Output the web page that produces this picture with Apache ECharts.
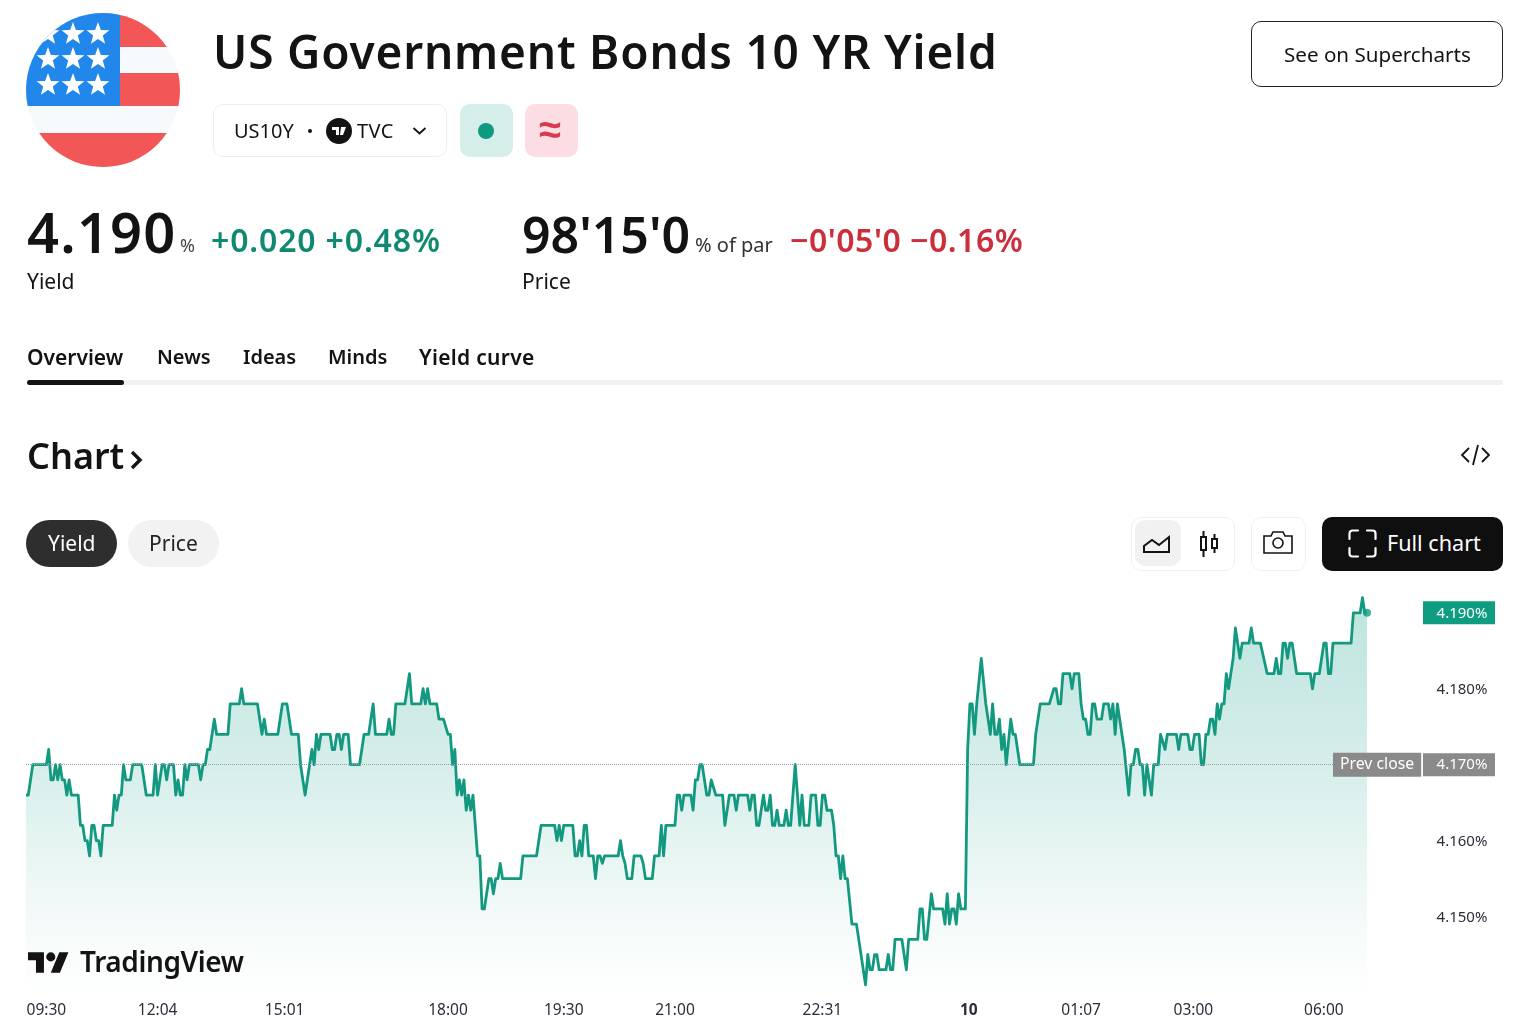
<!DOCTYPE html>
<html>
<head>
<meta charset="UTF-8">
<title>US Government Bonds 10 YR Yield</title>
<script src="https://cdn.jsdelivr.net/npm/echarts@6/dist/echarts.min.js"></script>
<style>
html,body{margin:0;padding:0;background:#fff;}
body{width:1536px;height:1034px;position:relative;overflow:hidden;font-family:"Noto Sans",sans-serif;color:#131313;}
#chart{position:absolute;left:0;top:0;width:1536px;height:1034px;}
.t{position:absolute;white-space:nowrap;line-height:1;transform:translateY(-50%);}
.b{position:absolute;box-sizing:border-box;border-radius:10px;}
svg{position:absolute;overflow:visible;}
</style>
</head>
<body>
<div id="chart"></div>

<svg style="left:0;top:0" width="200" height="180">
	<defs><clipPath id="flagClip"><circle cx="103" cy="90" r="77"/></clipPath></defs>
	<g clip-path="url(#flagClip)">
		<rect x="26" y="13" width="154" height="154" fill="#f7fafc"/>
		<rect x="120" y="13" width="60" height="34" fill="#f25656"/>
		<rect x="120" y="73" width="60" height="33" fill="#f25656"/>
		<rect x="26" y="133" width="154" height="34" fill="#f25656"/>
		<rect x="26" y="13" width="94" height="93" fill="#2287ea"/>
		<g fill="#fff" id="stars"></g>
	</g>
</svg>
<div class="t" style="left:213px;top:51px;font-size:46px;font-weight:600;letter-spacing:0.8px;">US Government Bonds 10 YR Yield</div>

<div class="b" style="left:213px;top:104px;width:234px;height:53px;border:1px solid #eeeeee;"></div>
<div class="t" style="left:234px;top:131px;font-size:20px;">US10Y</div>
<div class="b" style="left:308px;top:129px;width:4px;height:4px;background:#131313;border-radius:50%;"></div>
<svg style="left:326px;top:118px" width="26" height="26" viewBox="0 0 26 26">
	<circle cx="13" cy="13" r="13" fill="#131313"/>
	<path d="M6 9h7v8h-3v-5H6zM15 9h5l-3 8h-3z" fill="#fff"/>
</svg>
<div class="t" style="left:357px;top:131px;font-size:20px;letter-spacing:0.4px;">TVC</div>
<svg style="left:412px;top:126px" width="15" height="10"><path d="M1.5 2l6 5.5 6-5.5" fill="none" stroke="#131313" stroke-width="1.8"/></svg>
<div class="b" style="left:460px;top:104px;width:53px;height:53px;background:#d5eeea;"></div>
<div class="b" style="left:478px;top:123px;width:16px;height:16px;background:#0c9a80;border-radius:50%;"></div>
<div class="b" style="left:525px;top:104px;width:53px;height:53px;background:#fcdde3;"></div>
<div class="t" style="left:539px;top:128px;font-size:40px;font-weight:700;color:#d8394f;">≈</div>

<div class="b" style="left:1251px;top:21px;width:252px;height:66px;border:1px solid #222;"></div>
<div class="t" style="left:1284px;top:54px;font-size:20.6px;">See on Supercharts</div>

<div class="t" style="left:27px;top:231px;font-size:56px;font-weight:600;letter-spacing:1.2px;">4.190</div>
<div class="t" style="left:180px;top:245px;font-size:18px;color:#444;">%</div>
<div class="t" style="left:211px;top:240px;font-size:32px;font-weight:600;letter-spacing:0.85px;color:#0f8a70;">+0.020 +0.48%</div>
<div class="t" style="left:27px;top:281px;font-size:21px;">Yield</div>
<div class="t" style="left:522px;top:234px;font-size:50px;font-weight:600;">98'15'0</div>
<div class="t" style="left:695px;top:245px;font-size:20px;color:#333;">% of par</div>
<div class="t" style="left:790px;top:240px;font-size:32px;font-weight:600;letter-spacing:0.5px;color:#cc2f3c;">−0'05'0 −0.16%</div>
<div class="t" style="left:522px;top:281px;font-size:21px;">Price</div>

<div class="t" style="left:27px;top:357px;font-size:21px;font-weight:600;">Overview</div>
<div class="t" style="left:157px;top:357px;font-size:20px;font-weight:600;">News</div>
<div class="t" style="left:243px;top:357px;font-size:20px;font-weight:600;">Ideas</div>
<div class="t" style="left:328px;top:357px;font-size:20px;font-weight:600;">Minds</div>
<div class="t" style="left:419px;top:357px;font-size:21px;font-weight:600;letter-spacing:0.3px;">Yield curve</div>
<div class="b" style="left:27px;top:380px;width:1476px;height:5px;background:#f1f1f1;border-radius:3px;"></div>
<div class="b" style="left:27px;top:380px;width:97px;height:5px;background:#131313;border-radius:3px;"></div>

<div class="t" style="left:27px;top:456px;font-size:36px;font-weight:600;">Chart</div>
<svg style="left:130px;top:450px" width="14" height="20"><path d="M2 2l8 8-8 8" fill="none" stroke="#131313" stroke-width="3.4"/></svg>
<svg style="left:1461px;top:443px" width="29" height="24" fill="none" stroke="#131313" stroke-width="1.8">
	<path d="M8 5l-7 7 7 7M21 5l7 7-7 7M17 2l-5 20"/>
</svg>

<div class="b" style="left:26px;top:520px;width:91px;height:47px;background:#2e2e2e;border-radius:24px;"></div>
<div class="t" style="left:48px;top:543px;font-size:21px;color:#fff;">Yield</div>
<div class="b" style="left:128px;top:520px;width:91px;height:47px;background:#f2f2f2;border-radius:24px;"></div>
<div class="t" style="left:149px;top:543px;font-size:21px;color:#222;">Price</div>

<div class="b" style="left:1131px;top:517px;width:104px;height:54px;border:1px solid #f0f0f0;"></div>
<div class="b" style="left:1135px;top:520px;width:46px;height:46px;background:#f1f1f1;"></div>
<svg style="left:1143px;top:534px" width="28" height="20" fill="none" stroke="#131313" stroke-width="2">
	<path d="M1 18V12l8-6 7 5 10-8v15zM1 18h26"/>
</svg>
<svg style="left:1199px;top:530px" width="20" height="28" fill="none" stroke="#131313" stroke-width="2">
	<rect x="2" y="7" width="5" height="13"/><path d="M4.5 1v6M4.5 20v7"/>
	<rect x="13" y="9" width="5" height="9"/><path d="M15.5 4v5M15.5 18v5"/>
</svg>
<div class="b" style="left:1251px;top:517px;width:55px;height:54px;border:1px solid #f0f0f0;"></div>
<svg style="left:1263px;top:531px" width="30" height="24" fill="none" stroke="#131313" stroke-width="1.6">
	<path d="M1 5h7l2-4h10l2 4h7v17H1z"/><circle cx="15" cy="12" r="5"/>
</svg>
<div class="b" style="left:1322px;top:517px;width:181px;height:54px;background:#0f0f0f;"></div>
<svg style="left:1348px;top:529px" width="29" height="29" fill="none" stroke="#fff" stroke-width="2.2" stroke-linecap="round">
	<path d="M10 1.5H4.5a3 3 0 0 0-3 3V10M19 1.5h5.5a3 3 0 0 1 3 3V10M10 27.5H4.5a3 3 0 0 1-3-3V19M19 27.5h5.5a3 3 0 0 0 3-3V19"/>
</svg>
<div class="t" style="left:1387px;top:543px;font-size:21.6px;color:#fff;">Full chart</div>

<svg style="left:28px;top:950px" width="41" height="24" viewBox="0 0 36 21">
	<path d="M14 20H7V9H0V2h14zM28 20h-8l7.5-18h8z" fill="#131313"/><circle cx="20" cy="6" r="4" fill="#131313"/>
</svg>
<div class="t" style="left:80px;top:961px;font-size:28px;font-weight:600;letter-spacing:-0.4px;">TradingView</div>

<script type="text/javascript">
// session bar number of each turning point of the line, and the yield there
var barIndex = [
	0,1,3,9,10,11,12,13,14,15,16,17,18,19,20,23,24,25,26,27,28,29,30,31,32,33,34,38,39,40,41,42,43,44,46,47,51,53,56,57,58,60,61,62,63,65,66,67,68,69,70,71,72,76,77,78,79,80,81,83,84,89,90,94,95,96,102,104,105,106,111,113,115,117,120,121,123,126,127,128,129,130,134,135,136,137,138,139,140,142,143,147,
	149,151,153,154,159,160,161,162,163,167,169,170,174,175,176,177,178,181,182,184,186,187,188,189,190,191,192,193,194,195,196,197,199,200,201,202,204,205,206,207,208,209,210,218,219,225,227,233,234,235,236,237,241,242,243,244,245,246,247,248,250,251,252,253,254,255,261,262,263,264,265,267,268,271,272,273,276,277,279,280,281,282,286,287,288,289,290,
	293,294,295,296,297,298,300,301,302,304,307,308,310,312,313,314,318,319,320,321,322,323,325,326,327,328,329,330,331,332,334,335,336,337,339,341,342,343,345,346,348,349,350,351,352,353,355,356,357,358,359,360,361,362,364,366,370,371,372,373,374,375,376,379,380,381,382,383,386,388,389,393,394,395,396,397,399,400,404,405,406,407,408,409,410,411,412,414,415,416,417,418,419,421,423,425,426,427,428,429,430,431,432,434,435,436,438,
	444,445,447,451,453,454,455,456,457,460,461,462,464,465,466,467,468,469,470,471,472,474,475,477,478,479,480,481,484,486,487,488,489,490,491,492,493,494,496,497,499,500,502,503,507,508,509,512,513,514,515,517,518,519,520,521,522,523,524,525,526,527,528,529,530,532,533,535,536,539,540,541,544,547,550,551,552,553,554,555,556,557,558,560,566,567,568,570,572,573,574,575,576,584,585,588,589,590,591
];
var yieldPct = [
	4.166,4.166,4.170,4.170,4.172,4.168,4.168,4.170,4.168,4.170,4.168,4.168,4.166,4.168,4.166,4.166,4.162,4.162,4.160,4.160,4.158,4.162,4.162,4.160,4.160,4.158,4.162,4.162,4.166,4.164,4.166,4.166,4.170,4.168,4.168,4.170,4.170,4.166,4.166,4.170,4.166,4.170,4.170,4.168,4.170,4.170,4.166,4.168,4.166,4.166,4.170,4.168,4.170,4.170,4.168,4.170,4.170,4.172,4.172,4.176,4.174,4.174,4.178,4.178,4.180,4.178,4.178,4.174,4.176,4.174,4.174,4.178,4.178,4.174,4.174,4.170,4.166,4.172,4.170,4.174,4.172,4.174,4.174,4.172,4.172,4.174,4.174,4.172,4.174,4.174,4.170,4.170,
	4.174,4.174,4.178,4.174,4.174,4.176,4.174,4.174,4.178,4.178,4.182,4.178,4.178,4.180,4.178,4.180,4.178,4.178,4.176,4.176,4.174,4.174,4.170,4.172,4.166,4.168,4.166,4.168,4.164,4.166,4.164,4.166,4.158,4.158,4.151,4.151,4.155,4.155,4.153,4.155,4.155,4.157,4.155,4.155,4.158,4.158,4.162,4.162,4.160,4.162,4.160,4.162,4.162,4.158,4.158,4.160,4.158,4.162,4.162,4.158,4.158,4.155,4.158,4.158,4.157,4.158,4.158,4.160,4.158,4.157,4.155,4.155,4.158,4.158,4.157,4.155,4.155,4.158,4.158,4.162,4.158,4.162,4.162,4.166,4.166,4.164,4.166,
	4.166,4.164,4.168,4.168,4.170,4.170,4.166,4.166,4.168,4.166,4.166,4.162,4.166,4.166,4.164,4.166,4.166,4.164,4.166,4.166,4.162,4.162,4.166,4.164,4.164,4.166,4.162,4.162,4.164,4.162,4.162,4.164,4.162,4.162,4.170,4.162,4.166,4.162,4.162,4.166,4.166,4.162,4.162,4.166,4.166,4.164,4.164,4.162,4.158,4.158,4.155,4.158,4.155,4.155,4.149,4.149,4.141,4.145,4.143,4.143,4.145,4.145,4.143,4.143,4.145,4.143,4.143,4.147,4.147,4.143,4.147,4.147,4.151,4.151,4.147,4.147,4.153,4.151,4.151,4.149,4.153,4.149,4.151,4.151,4.149,4.153,4.151,4.151,4.172,4.178,4.178,4.174,4.178,4.184,4.178,4.174,4.178,4.174,4.174,4.176,4.172,4.174,4.170,4.176,4.174,4.174,4.170,
	4.170,4.174,4.178,4.178,4.180,4.180,4.178,4.178,4.182,4.182,4.180,4.182,4.182,4.178,4.176,4.176,4.174,4.174,4.178,4.178,4.176,4.176,4.178,4.178,4.176,4.178,4.174,4.178,4.172,4.166,4.170,4.170,4.172,4.172,4.170,4.170,4.166,4.170,4.166,4.170,4.170,4.174,4.172,4.174,4.174,4.172,4.174,4.174,4.172,4.172,4.174,4.174,4.170,4.170,4.174,4.174,4.176,4.176,4.174,4.178,4.176,4.178,4.178,4.182,4.180,4.184,4.188,4.184,4.186,4.186,4.188,4.186,4.186,4.182,4.182,4.184,4.182,4.182,4.186,4.186,4.184,4.186,4.186,4.182,4.182,4.180,4.182,4.182,4.186,4.186,4.182,4.182,4.186,4.186,4.190,4.190,4.192,4.190,4.190
];
var xTickBars = [9,58,114,186,237,286,351,415.5,465,514.5,572];
var xTickLabels = ['09:30','12:04','15:01','18:00','19:30','21:00','22:31','10','01:07','03:00','06:00'];
var yTicks = [4.15,4.16,4.17,4.18,4.19];
var prevClose = 4.17;
var lastYield = 4.19;

var starRows = [[48,34],[73,34],[98,34],[48,59],[73,59],[98,59],[48,85],[73,85],[98,85]];
var starsHtml = '';
for (var s=0;s<starRows.length;s++) {
	var pts = [];
	for (var k=0;k<10;k++) {
		var r = k%2==0 ? 12 : 5;
		var a = -Math.PI/2 + k*Math.PI/5;
		pts.push((starRows[s][0]+r*Math.cos(a)).toFixed(1)+','+(starRows[s][1]+r*Math.sin(a)).toFixed(1));
	}
	starsHtml += '<polygon points="'+pts.join(' ')+'"/>';
}
document.getElementById('stars').innerHTML = starsHtml;

var lineData = [];
for (var i=0;i<barIndex.length;i++) {
	lineData.push([barIndex[i], yieldPct[i]]);
}

var myChart = echarts.init(document.getElementById('chart'));
var font = '"Noto Sans",sans-serif';
var option = {
	animation: false,
	grid: {left:26, right:169, top:590, bottom:41.5},
	xAxis: {
		type: 'value',
		min: 0,
		max: 591,
		splitLine: {show:false},
		axisLine: {show:false},
		axisTick: {show:false},
		axisLabel: {
			customValues: xTickBars,
			margin: 10,
			fontFamily: font,
			fontSize: 15.5,
			color: '#2a2e39',
			formatter: function(v){
				var label = xTickLabels[xTickBars.indexOf(v)];
				return label == '10' ? '{day|10}' : label;
			},
			rich: {day:{fontFamily:font, fontSize:15.5, fontWeight:700, color:'#2a2e39'}}
		}
	},
	yAxis: {
		type: 'value',
		position: 'right',
		min: 4.14,
		max: 4.193,
		splitLine: {show:false},
		axisLine: {show:false},
		axisTick: {show:false},
		axisLabel: {
			customValues: yTicks,
			margin: 56,
			formatter: function(v){
				var text = v.toFixed(3)+'%';
				if (v == lastYield) return '{up|'+text+'}';
				if (v == prevClose) return '{flat|'+text+'}';
				return '{plain|'+text+'}';
			},
			rich: {
				plain: {width:66, align:'center', fontFamily:font, fontSize:15, color:'#2a2e39', padding:[2,0,0,6]},
				up: {width:66, height:22, align:'center', fontFamily:font, fontSize:15, color:'#fff', backgroundColor:'#0f9d82', padding:[1,0,0,6]},
				flat: {width:66, height:22, align:'center', fontFamily:font, fontSize:15, color:'#fff', backgroundColor:'#8a8a8a', padding:[1,0,0,6]}
			}
		}
	},
	series: [
		{
			type: 'line',
			data: lineData,
			symbol: 'none',
			lineStyle: {color:'#12997f', width:2.8, join:'round'},
			areaStyle: {
				color: new echarts.graphic.LinearGradient(0,0,0,1,[
					{offset:0, color:'rgba(8,153,129,0.38)'},
					{offset:0.44, color:'rgba(8,153,129,0.23)'},
					{offset:0.78, color:'rgba(8,153,129,0.08)'},
					{offset:1, color:'rgba(8,153,129,0)'}
				])
			},
			markLine: {
				silent: true,
				symbol: 'none',
				lineStyle: {color:'#9a9ea8', type:'dotted', width:1},
				data: [{yAxis:prevClose}],
				label: {
					position: 'end',
					distance: -34,
					formatter: 'Prev close',
					fontFamily: font,
					fontSize: 15.8,
					color: '#fff',
					backgroundColor: '#8a8a8a',
					padding: [5,7,3,7]
				}
			}
		},
		{
			type: 'scatter',
			data: [[barIndex[barIndex.length-1], yieldPct[yieldPct.length-1]]],
			symbolSize: 8,
			itemStyle: {color:'#0f9d82'},
			z: 5
		}
	]
};
myChart.setOption(option);
</script>
</body>
</html>
